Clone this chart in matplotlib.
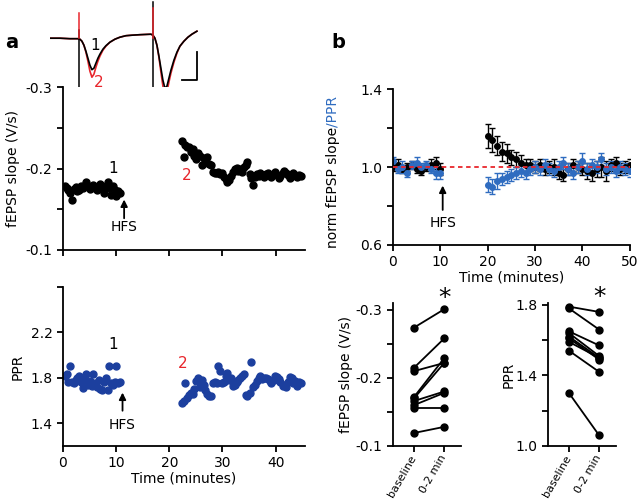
import numpy as np
import matplotlib.pyplot as plt

# ---- data ----
# example traces (time in a.u., voltage in mV), black = 1 (baseline), red = 2 (post-HFS)
trace_t = [0, 10, 20, 28, 30, 32, 34, 36, 38, 40, 42, 44, 46, 48, 50, 53, 56, 60, 65, 70,
           76, 82, 90, 101, 103, 105, 107, 109, 111, 113, 115, 117, 119, 121, 124, 127,
           130, 134, 138, 142, 147]
trace_black = [0.0, 0.0, -0.005, -0.005, -0.01, -0.03, -0.07, -0.13, -0.20, -0.27, -0.315,
               -0.30, -0.25, -0.20, -0.16, -0.11, -0.075, -0.04, -0.01, 0.01, 0.025, 0.03,
               0.035, 0.04, 0.03, 0.0, -0.07, -0.18, -0.30, -0.42, -0.50, -0.48, -0.40,
               -0.32, -0.22, -0.14, -0.08, -0.03, 0.01, 0.04, 0.07]
trace_red = [0.0, 0.0, -0.005, -0.005, -0.01, -0.03, -0.07, -0.14, -0.23, -0.33, -0.39,
             -0.36, -0.29, -0.23, -0.18, -0.12, -0.08, -0.04, -0.01, 0.01, 0.025, 0.03,
             0.035, 0.04, 0.03, 0.0, -0.07, -0.19, -0.34, -0.48, -0.59, -0.54, -0.44,
             -0.35, -0.24, -0.15, -0.08, -0.03, 0.01, 0.04, 0.07]
artifact_t = [29, 103]
artifact_black = [(0.08, -0.54), (0.36, -0.54)]
artifact_red = [(0.25, 0.0), (0.30, 0.0)]

# panel a: single experiment
base_t = [0.3, 0.7, 1.0, 1.4, 1.7, 2.0, 2.4, 2.7, 3.0, 3.4, 3.7, 4.0, 4.4, 4.7, 5.0, 5.4,
          5.7, 6.0, 6.4, 6.7, 7.0, 7.4, 7.7, 8.0, 8.4, 8.7, 9.0, 9.4, 9.7, 10.0, 10.4, 10.7]
base_slope = [-0.178, -0.176, -0.174, -0.170, -0.161, -0.175, -0.177, -0.172, -0.174, -0.178,
              -0.176, -0.179, -0.183, -0.178, -0.175, -0.177, -0.180, -0.176, -0.174, -0.178,
              -0.181, -0.175, -0.170, -0.178, -0.184, -0.176, -0.168, -0.179, -0.174, -0.166,
              -0.172, -0.170]
base_ppr = [1.82, 1.83, 1.76, 1.90, 1.76, 1.75, 1.78, 1.80, 1.82, 1.76, 1.71, 1.78, 1.83,
            1.74, 1.77, 1.73, 1.83, 1.75, 1.72, 1.78, 1.70, 1.69, 1.76, 1.80, 1.69, 1.90,
            1.75, 1.74, 1.76, 1.90, 1.75, 1.76]
post_t = [22.3, 22.7, 23.0, 23.4, 23.7, 24.0, 24.4, 24.7, 25.1, 25.4,
          25.8, 26.1, 26.5, 26.8, 27.1, 27.5, 27.8, 28.2, 28.5, 28.9,
          29.2, 29.6, 29.9, 30.2, 30.6, 30.9, 31.3, 31.6, 32.0, 32.3,
          32.7, 33.0, 33.3, 33.7, 34.0, 34.4, 34.7, 35.1, 35.4, 35.8,
          36.1, 36.5, 36.8, 37.1, 37.5, 37.8, 38.2, 38.5, 38.9, 39.2,
          39.6, 39.9, 40.2, 40.6, 40.9, 41.3, 41.6, 42.0, 42.3, 42.7,
          43.0, 43.3, 43.7, 44.0, 44.4, 44.7]
post_slope = [-0.234, -0.214, -0.229, -0.227, -0.226, -0.220, -0.224, -0.216, -0.212, -0.219,
              -0.215, -0.204, -0.213, -0.208, -0.214, -0.206, -0.204, -0.196, -0.195, -0.194,
              -0.196, -0.193, -0.195, -0.190, -0.187, -0.183, -0.186, -0.191, -0.196, -0.199,
              -0.201, -0.197, -0.199, -0.196, -0.202, -0.205, -0.208, -0.193, -0.188, -0.180,
              -0.190, -0.193, -0.191, -0.194, -0.192, -0.190, -0.193, -0.195, -0.192, -0.190,
              -0.193, -0.196, -0.192, -0.189, -0.191, -0.194, -0.197, -0.195, -0.192, -0.189,
              -0.191, -0.194, -0.192, -0.190, -0.192, -0.191]
post_ppr = [1.58, 1.60, 1.75, 1.62, 1.65, 1.67, 1.66, 1.70, 1.77, 1.80,
            1.72, 1.78, 1.74, 1.69, 1.66, 1.64, 1.64, 1.75, 1.76, 1.75,
            1.90, 1.86, 1.75, 1.76, 1.82, 1.84, 1.78, 1.80, 1.73, 1.74,
            1.76, 1.78, 1.80, 1.82, 1.83, 1.65, 1.64, 1.67, 1.94, 1.72,
            1.74, 1.77, 1.80, 1.82, 1.79, 1.80, 1.80, 1.79, 1.77, 1.75,
            1.78, 1.82, 1.81, 1.79, 1.76, 1.73, 1.74, 1.72, 1.76, 1.81,
            1.80, 1.75, 1.77, 1.73, 1.76, 1.75]

# panel b: group averages (normalised)
gb_t = [0, 1, 2, 3, 4, 5, 6, 7, 8, 9, 10]
gb_slope = [1.00, 1.01, 0.99, 1.00, 1.01, 0.99, 0.98, 1.00, 1.01, 1.02, 0.99]
gb_slope_err = [0.02, 0.03, 0.02, 0.02, 0.02, 0.02, 0.02, 0.02, 0.03, 0.03, 0.03]
gb_ppr = [1.03, 0.99, 1.00, 0.97, 1.01, 1.02, 1.00, 1.01, 0.99, 0.97, 0.97]
gb_ppr_err = [0.02, 0.02, 0.03, 0.02, 0.02, 0.03, 0.02, 0.02, 0.02, 0.03, 0.03]
gp_t = [20, 21, 22, 23, 24, 25, 26, 27, 28, 29, 30, 31, 32, 33, 34, 35, 36, 37, 38, 39,
        40, 41, 42, 43, 44, 45, 46, 47, 48, 49, 50]
gp_slope = [1.16, 1.14, 1.11, 1.08, 1.07, 1.05, 1.04, 1.02, 1.01, 1.01, 1.00, 1.01, 0.99,
            1.00, 1.00, 0.97, 0.96, 0.99, 1.01, 1.00, 0.99, 0.98, 0.97, 0.99, 1.00, 0.98,
            1.01, 1.02, 0.99, 1.00, 1.01]
gp_slope_err = [0.06, 0.06, 0.05, 0.05, 0.05, 0.04, 0.04, 0.04, 0.03, 0.03, 0.03, 0.03,
                0.03, 0.03, 0.04, 0.03, 0.03, 0.03, 0.03, 0.03, 0.03, 0.04, 0.04, 0.04,
                0.05, 0.05, 0.03, 0.03, 0.03, 0.03, 0.03]
gp_ppr = [0.91, 0.90, 0.93, 0.94, 0.95, 0.96, 0.97, 0.98, 0.97, 0.99, 1.00, 0.99, 1.01,
          0.99, 0.98, 1.00, 1.02, 0.99, 0.97, 1.00, 1.03, 0.99, 1.01, 1.00, 1.04, 0.99,
          1.00, 0.98, 1.00, 0.99, 0.98]
gp_ppr_err = [0.04, 0.04, 0.04, 0.03, 0.03, 0.03, 0.03, 0.03, 0.03, 0.03, 0.03, 0.03,
              0.03, 0.03, 0.03, 0.03, 0.03, 0.03, 0.03, 0.03, 0.04, 0.03, 0.03, 0.03,
              0.03, 0.03, 0.03, 0.03, 0.03, 0.03, 0.03]

# paired comparison
pair_labels = ['baseline', '0-2 min']
pair_slope_base = [-0.274, -0.215, -0.210, -0.172, -0.170, -0.166, -0.160, -0.156, -0.119]
pair_slope_post = [-0.301, -0.258, -0.222, -0.229, -0.222, -0.180, -0.178, -0.156, -0.128]
pair_ppr_base = [1.79, 1.78, 1.65, 1.64, 1.62, 1.61, 1.59, 1.54, 1.30]
pair_ppr_post = [1.76, 1.66, 1.57, 1.51, 1.50, 1.49, 1.50, 1.42, 1.06]

RED = '#e8262c'
NAVY = '#1c3f9e'
BLUE = '#2f6cc0'

plt.rcParams['font.family'] = 'DejaVu Sans'
plt.rcParams['font.size'] = 10
plt.rcParams['axes.linewidth'] = 1.3
plt.rcParams['xtick.major.width'] = 1.3
plt.rcParams['ytick.major.width'] = 1.3
plt.rcParams['xtick.major.size'] = 4
plt.rcParams['ytick.major.size'] = 4

fig = plt.figure(figsize=(6.4, 5.01), dpi=100)


def clean(ax):
    ax.spines['top'].set_visible(False)
    ax.spines['right'].set_visible(False)


def hfs(ax, x, tip, tail, txt):
    ax.annotate('', xy=(x, tip), xytext=(x, tail),
                arrowprops=dict(arrowstyle='-|>', color='k', lw=1.3, mutation_scale=10,
                                shrinkA=0, shrinkB=0))
    ax.text(x, txt, 'HFS', ha='center', va='center', fontsize=10)


# traces
axt = fig.add_axes([0.078, 0.80, 0.25, 0.1996])
axt.plot(trace_t, trace_red, color=RED, lw=1.2)
axt.plot(trace_t, trace_black, color='k', lw=1.2)
for t, (top, bot), (rtop, rbot) in zip(artifact_t, artifact_black, artifact_red):
    axt.plot([t, t], [top, bot], color='k', lw=1.1)
    axt.plot([t, t], [rtop, rbot], color=RED, lw=1.1)
axt.plot([147, 147, 132], [-0.14, -0.42, -0.42], color='k', lw=1.3)
axt.text(45, -0.07, '1', color='k', ha='center', va='center', fontsize=11)
axt.text(49, -0.44, '2', color=RED, ha='center', va='center', fontsize=11)
axt.set_xlim(0, 160)
axt.set_ylim(-0.62, 0.38)
axt.axis('off')

# a top: fEPSP slope
ax1 = fig.add_axes([0.0984, 0.501, 0.378, 0.325])
ax1.plot(base_t, base_slope, 'o', color='k', ms=5)
ax1.plot(post_t, post_slope, 'o', color='k', ms=5)
ax1.set_xlim(0, 45.5)
ax1.set_ylim(-0.1, -0.3)
ax1.set_yticks([-0.3, -0.25, -0.2, -0.15, -0.1])
ax1.set_yticklabels(['-0.3', '', '-0.2', '', '-0.1'])
ax1.set_xticks([0, 10, 20, 30, 40])
ax1.set_xticklabels([])
ax1.set_ylabel('fEPSP slope (V/s)')
clean(ax1)
ax1.text(9.5, -0.2, '1', ha='center', va='center', fontsize=11)
ax1.text(23.3, -0.191, '2', color=RED, ha='center', va='center', fontsize=11)
hfs(ax1, 11.5, -0.162, -0.139, -0.128)

# a bottom: PPR
ax2 = fig.add_axes([0.0984, 0.110, 0.378, 0.317])
ax2.plot(base_t, base_ppr, 'o', color=NAVY, ms=5)
ax2.plot(post_t, post_ppr, 'o', color=NAVY, ms=5)
ax2.set_xlim(0, 45.5)
ax2.set_ylim(1.2, 2.6)
ax2.set_yticks([1.4, 1.8, 2.2, 2.6])
ax2.set_yticklabels(['1.4', '1.8', '2.2', ''])
ax2.set_xticks([0, 10, 20, 30, 40])
ax2.set_xlabel('Time (minutes)', labelpad=1)
ax2.set_ylabel('PPR')
clean(ax2)
ax2.text(9.5, 2.09, '1', ha='center', va='center', fontsize=11)
ax2.text(22.6, 1.93, '2', color=RED, ha='center', va='center', fontsize=11)
hfs(ax2, 11.2, 1.67, 1.51, 1.38)

# b top: normalised group data
ax3 = fig.add_axes([0.614, 0.511, 0.370, 0.311])
ax3.errorbar(gb_t, gb_slope, yerr=gb_slope_err, fmt='o', color='k', ms=4, capsize=2, lw=1)
ax3.errorbar(gp_t, gp_slope, yerr=gp_slope_err, fmt='o', color='k', ms=4, capsize=2, lw=1)
ax3.errorbar(gb_t, gb_ppr, yerr=gb_ppr_err, fmt='o', color=BLUE, ms=4, capsize=2, lw=1)
ax3.errorbar(gp_t, gp_ppr, yerr=gp_ppr_err, fmt='o', color=BLUE, ms=4, capsize=2, lw=1)
ax3.plot([0, 50], [1.0, 1.0], '--', color=RED, lw=1.3, dashes=(2.5, 2), zorder=10)
ax3.set_xlim(0, 50)
ax3.set_ylim(0.6, 1.4)
ax3.set_yticks([0.6, 0.8, 1.0, 1.2, 1.4])
ax3.set_yticklabels(['0.6', '', '1.0', '', '1.4'])
ax3.set_xticks([0, 10, 20, 30, 40, 50])
ax3.set_xlabel('Time (minutes)', labelpad=1)
clean(ax3)
hfs(ax3, 10.5, 0.905, 0.78, 0.715)

t1 = ax3.text(-0.255, -0.02, 'norm fEPSP slope', rotation=90, transform=ax3.transAxes,
              ha='center', va='bottom', fontsize=10)
fig.canvas.draw()
bb = t1.get_window_extent()
ytop = ax3.transAxes.inverted().transform((0, bb.y1))[1]
ax3.text(-0.255, ytop, '/PPR', rotation=90, transform=ax3.transAxes,
         ha='center', va='bottom', fontsize=10, color=BLUE)

# b bottom left: paired slope
ax4 = fig.add_axes([0.614, 0.110, 0.106, 0.285])
for b, p in zip(pair_slope_base, pair_slope_post):
    ax4.plot([0, 1], [b, p], '-o', color='k', ms=5, lw=1.3)
ax4.set_xlim(-0.7, 1.55)
ax4.set_ylim(-0.1, -0.31)
ax4.set_yticks([-0.3, -0.25, -0.2, -0.15, -0.1])
ax4.set_yticklabels(['-0.3', '', '-0.2', '', '-0.1'])
ax4.set_xticks([0, 1])
ax4.set_xticklabels(pair_labels, rotation=60, ha='right', va='center',
                    rotation_mode='anchor', fontsize=8)
ax4.tick_params(axis='x', pad=3)
ax4.set_ylabel('fEPSP slope (V/s)', labelpad=2)
clean(ax4)
ax4.text(1, -0.318, '*', ha='center', va='center', fontsize=18, clip_on=False)

# b bottom right: paired PPR
ax5 = fig.add_axes([0.856, 0.110, 0.106, 0.285])
for b, p in zip(pair_ppr_base, pair_ppr_post):
    ax5.plot([0, 1], [b, p], '-o', color='k', ms=5, lw=1.3)
ax5.set_xlim(-0.7, 1.55)
ax5.set_ylim(1.0, 1.81)
ax5.set_yticks([1.0, 1.2, 1.4, 1.6, 1.8])
ax5.set_yticklabels(['1.0', '', '1.4', '', '1.8'])
ax5.set_xticks([0, 1])
ax5.set_xticklabels(pair_labels, rotation=60, ha='right', va='center',
                    rotation_mode='anchor', fontsize=8)
ax5.tick_params(axis='x', pad=3)
ax5.set_ylabel('PPR', labelpad=0)
clean(ax5)
ax5.text(1, 1.845, '*', ha='center', va='center', fontsize=18, clip_on=False)

fig.text(0.008, 0.915, 'a', fontsize=14, fontweight='bold', va='center')
fig.text(0.518, 0.915, 'b', fontsize=14, fontweight='bold', va='center')

fig.savefig('out.png', dpi=100)
